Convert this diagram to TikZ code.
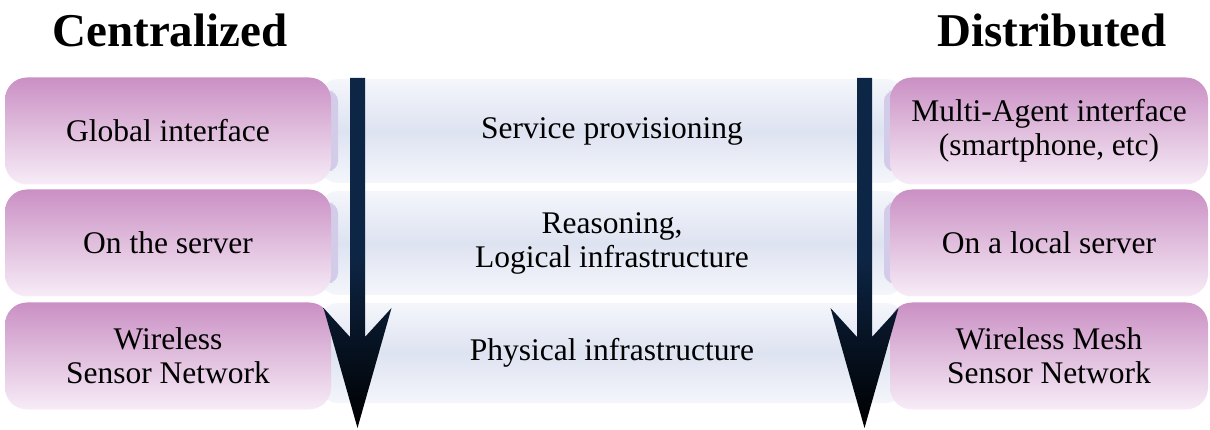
\documentclass[tikz,border=0pt]{standalone}
\usepackage{fontspec}
\setmainfont{Liberation Serif}
\definecolor{boxtop}{RGB}{202,144,196}
\definecolor{boxbot}{RGB}{247,236,247}
\definecolor{bandmid}{RGB}{222,227,241}
\definecolor{bandedge}{RGB}{244,246,251}
\definecolor{bandend}{RGB}{210,204,232}
\definecolor{arrowblue}{RGB}{14,38,70}

\begin{document}
\begin{tikzpicture}[x=1pt,y=-1pt,
   every node/.style={align=center,font=\fontsize{31.5}{34}\selectfont},
   sidebox/.style={rounded corners=22pt,top color=boxtop,bottom color=boxbot,
      minimum width=326pt,minimum height=107pt,inner sep=0pt},
   band/.style={rounded corners=18pt,top color=bandedge,bottom color=bandedge,
      middle color=bandmid,minimum width=584pt,minimum height=104pt,inner sep=0pt},
   heading/.style={anchor=base,font=\bfseries\fontsize{47}{50}\selectfont}]
\useasboundingbox (0,0) rectangle (1210,430);

\node[heading] (central) at (170,47) {Centralized};
\node[heading] (distrib) at (1052,47) {Distributed};

% middle layers
\node[band] (service) at (612,131) {Service provisioning};
\node[band] (reason) at (612,243) {Reasoning,\\Logical infrastructure};
\node[band,minimum height=100pt] (physical) at (612,353) {Physical infrastructure};

% lavender band ends peeking out behind the side boxes
\foreach \row/\yc in {service/131,reason/243}{
  \fill[bandend,rounded corners=10pt] (324,\yc-40) rectangle (338,\yc+40);
  \fill[bandend,rounded corners=10pt] (884,\yc-40) rectangle (898,\yc+40);
}

% centralized side
\node[sidebox] (global) at (168,131) {Global interface};
\node[sidebox] (server) at (168,243) {On the server};
\node[sidebox] (wsn) at (168,356) {Wireless\\Sensor Network};

% distributed side
\node[sidebox,minimum width=318pt] (agent) at (1049,131) {Multi-Agent interface\\(smartphone, etc)};
\node[sidebox,minimum width=318pt] (local) at (1049,243) {On a local server};
\node[sidebox,minimum width=318pt] (wmsn) at (1049,356) {Wireless Mesh\\Sensor Network};

% arrows
\foreach \cx in {357.5,864.5}
  \shade[top color=arrowblue,bottom color=black,middle color=arrowblue]
    (\cx-7.5,78) -- (\cx+7.5,78) -- (\cx+7.5,337) -- (\cx+34,308)
    -- (\cx,428) -- (\cx-34,308) -- (\cx-7.5,337) -- cycle;
\end{tikzpicture}
\end{document}
